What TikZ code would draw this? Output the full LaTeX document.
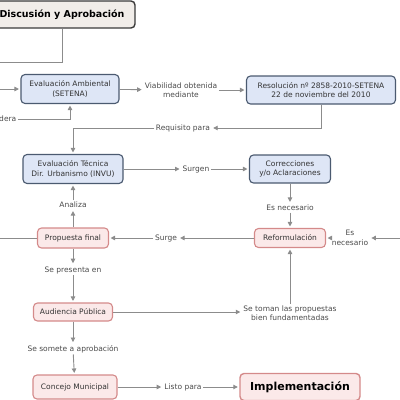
\documentclass[tikz,border=0pt]{standalone}
\usepackage{fontspec}
\setmainfont{DejaVu Sans}
\usepackage{xcolor}
\usetikzlibrary{arrows.meta}
\definecolor{linegray}{HTML}{8C8C8C}
\definecolor{textdark}{HTML}{333333}
\definecolor{textgray}{HTML}{4A4A4A}
\definecolor{bluefill}{HTML}{DEE6F6}
\definecolor{bluedark}{HTML}{4B5A70}
\definecolor{pinkfill}{HTML}{FBE9E9}
\definecolor{pinkdark}{HTML}{D48A8A}
\definecolor{topfill}{HTML}{F1EDE9}
\definecolor{topdark}{HTML}{3A3A3A}
\tikzstyle{boxblue}	=[draw=bluedark,fill=bluefill,rounded corners=4pt,line width=1.1pt,align=center,text=textdark,font=\fontsize{7.5}{9.5}\selectfont,inner sep=2pt]
\tikzstyle{boxpink}	=[draw=pinkdark,fill=pinkfill,rounded corners=4pt,line width=1.1pt,align=center,text=textdark,font=\fontsize{7.5}{9.5}\selectfont,inner sep=2pt]
\tikzstyle{boxtop}	=[draw=topdark,fill=topfill,rounded corners=4pt,line width=1.4pt,align=center,text=black,font=\bfseries\fontsize{9.5}{11}\selectfont]
\tikzstyle{boximpl}	=[draw=pinkdark,fill=pinkfill,rounded corners=4pt,line width=1.4pt,align=center,text=black,font=\bfseries\fontsize{11}{13}\selectfont]
\tikzstyle{lbl}		=[align=center,text=textgray,font=\fontsize{7.5}{9.5}\selectfont,inner sep=1.5pt]
\tikzstyle{edgear}	=[draw,linegray,line width=0.9pt,-{Triangle[length=4.5pt,width=4.5pt]},shorten >=1.5pt]
\tikzstyle{edgeln}	=[draw,linegray,line width=0.9pt]
\begin{document}
\begin{tikzpicture}[x=1pt,y=-1pt]
		\useasboundingbox (0,0) rectangle (400,400);
		
		%%%%% Boxes
		\node[boxtop,minimum width=146pt,minimum height=27pt] (disc) at (62,14.5) {Discusión y Aprobación};
		\node[boxblue,minimum width=98pt,minimum height=29pt] (evamb) at (70,89) {Evaluación Ambiental\\(SETENA)};
		\node[boxblue,minimum width=149pt,minimum height=28pt] (resol) at (321,90) {Resolución nº 2858-2010-SETENA\\22 de noviembre del 2010};
		\node[boxblue,minimum width=100pt,minimum height=29pt] (evtec) at (73,169) {Evaluación Técnica\\Dir. Urbanismo (INVU)};
		\node[boxblue,minimum width=81pt,minimum height=28pt] (correc) at (290,169) {Correcciones\\y/o Aclaraciones};
		\node[boxpink,minimum width=71pt,minimum height=19pt] (reform) at (290,238) {Reformulación};
		\node[boxpink,minimum width=71pt,minimum height=20pt] (propu) at (73,238) {Propuesta final};
		\node[boxpink,minimum width=79pt,minimum height=18pt] (audi) at (73,312) {Audiencia Pública};
		\node[boxpink,minimum width=84pt,minimum height=24pt] (concejo) at (75,387) {Concejo Municipal};
		\node[boximpl,minimum width=120pt,minimum height=27pt] (impl) at (300,387) {Implementación};
		
		%%%%% Labels
		\node[lbl] (viab) at (181,90) {Viabilidad obtenida\\mediante};
		\node[lbl] (requi) at (183,128) {Requisito para};
		\node[lbl,anchor=east] (dera) at (18,119) {dera};
		\node[lbl] (surgen) at (196,169) {Surgen};
		\node[lbl] (esnec1) at (290,208) {Es necesario};
		\node[lbl] (surge) at (166,238) {Surge};
		\node[lbl] (esnec2) at (350,238) {Es\\necesario};
		\node[lbl] (analiza) at (73,205) {Analiza};
		\node[lbl] (sepres) at (73,270) {Se presenta en};
		\node[lbl] (setoman) at (290,313) {Se toman las propuestas\\bien fundamentadas};
		\node[lbl] (sesomete) at (73,349) {Se somete a aprobación};
		\node[lbl] (listo) at (183,387) {Listo para};
		
		%%%%% Free ends
		\coordinate (discend) at (-5,62);
		\coordinate (evambin) at (-5,89);
		\coordinate (esnecin) at (405,238);
		\coordinate (propuend) at (-5,238);
		
		%%%% Straight connectors
		\foreach \source/ \dest in {evamb/viab,viab/resol,evtec/surgen,surgen/correc,correc/esnec1,esnec1/reform}	\path[edgear] (\source) -- (\dest) ;
		\foreach \source/ \dest in {reform/surge,surge/propu,esnecin/esnec2,esnec2/reform,propu/analiza,analiza/evtec}	\path[edgear] (\source) -- (\dest) ;
		\foreach \source/ \dest in {propu/sepres,sepres/audi,audi/sesomete,sesomete/concejo,concejo/listo,listo/impl}	\path[edgear] (\source) -- (\dest) ;
		\path[edgear] (evambin) -- (evamb.west);
		\path[edgear] (audi.east) -- (setoman.west |- audi.east);
		\path[edgear] (setoman.north) -- (reform.south);
		\path[edgeln] (propu.west) -- (propuend);
		
		%%%% Elbow connectors
		\path[edgeln] (disc.south) |- (discend);
		\path[edgear] (dera.east) -| (evamb.south);
		\path[edgear] (resol.south) |- (requi.east);
		\path[edgear] (requi.west) -| (evtec.north);
\end{tikzpicture}
\end{document}
